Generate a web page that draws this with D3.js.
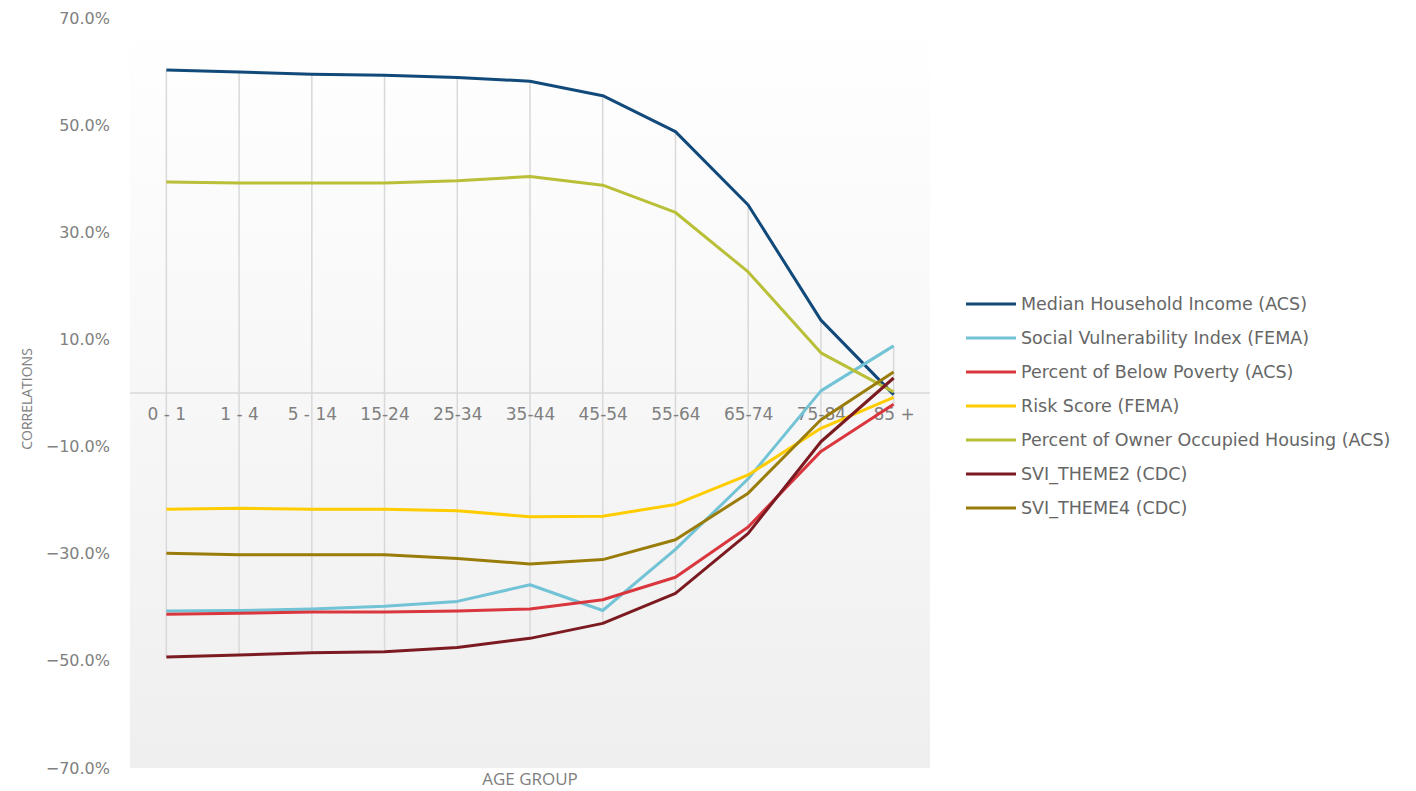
<!DOCTYPE html>
<html>
<head>
<meta charset="utf-8">
<script src="https://cdn.jsdelivr.net/npm/d3@7"></script>
<style>
  html, body { margin: 0; padding: 0; background: #fff; }
  svg { display: block; }
  text { font-family: "DejaVu Sans", sans-serif; }
</style>
</head>
<body>
<svg id="chart" width="1416" height="791"></svg>
<script>
// ---- data ----
const ageGroups = ["0 - 1", "1 - 4", "5 - 14", "15-24", "25-34", "35-44", "45-54", "55-64", "65-74", "75-84", "85 +"];
const yTicks = [70, 50, 30, 10, -10, -30, -50, -70];

const seriesNames = [
  "Median Household Income (ACS)",
  "Social Vulnerability Index (FEMA)",
  "Percent of Below Poverty (ACS)",
  "Risk Score (FEMA)",
  "Percent of Owner Occupied Housing (ACS)",
  "SVI_THEME2 (CDC)",
  "SVI_THEME4 (CDC)"
];
const seriesColors = ["#10497a", "#72c3d5", "#d9363e", "#ffcc00", "#b9bf37", "#7b1b21", "#9a7c0b"];

const medianIncome = [60.3, 59.9, 59.5, 59.3, 58.9, 58.2, 55.5, 48.8, 35.1, 13.6, -0.3];
const sviFema      = [-40.7, -40.6, -40.3, -39.8, -38.9, -35.8, -40.6, -29.2, -16.0, 0.4, 8.8];
const belowPoverty = [-41.3, -41.1, -40.9, -40.9, -40.7, -40.3, -38.6, -34.4, -25.0, -10.9, -2.1];
const riskScore    = [-21.7, -21.5, -21.7, -21.7, -22.0, -23.1, -23.0, -20.8, -15.3, -6.6, -0.8];
const ownerHousing = [39.4, 39.2, 39.2, 39.2, 39.6, 40.4, 38.8, 33.7, 22.6, 7.5, 0.2];
const sviTheme2    = [-49.3, -48.9, -48.5, -48.3, -47.5, -45.8, -43.0, -37.4, -26.2, -9.1, 2.8];
const sviTheme4    = [-29.9, -30.2, -30.2, -30.2, -30.9, -31.9, -31.1, -27.4, -18.7, -5.0, 3.9];

const seriesValues = [medianIncome, sviFema, belowPoverty, riskScore, ownerHousing, sviTheme2, sviTheme4];

// ---- layout ----
const svg = d3.select("#chart");
const plot = { left: 130, right: 930, top: 18, bottom: 768 };

const x = d3.scalePoint().domain(ageGroups).range([plot.left, plot.right]).padding(0.5);
const y = d3.scaleLinear().domain([-70, 70]).range([plot.bottom, plot.top]);

// background gradient
const defs = svg.append("defs");
const grad = defs.append("linearGradient").attr("id", "bg").attr("x1", 0).attr("y1", 0).attr("x2", 0).attr("y2", 1);
grad.append("stop").attr("offset", "0%").attr("stop-color", "#ffffff");
grad.append("stop").attr("offset", "100%").attr("stop-color", "#efefef");

svg.append("rect")
  .attr("x", plot.left).attr("y", plot.top)
  .attr("width", plot.right - plot.left).attr("height", plot.bottom - plot.top)
  .attr("fill", "url(#bg)");

// zero line
svg.append("line")
  .attr("x1", plot.left).attr("x2", plot.right)
  .attr("y1", y(0)).attr("y2", y(0))
  .attr("stroke", "#d9d9d9").attr("stroke-width", 1.5);

// high-low drop lines
ageGroups.forEach((g, i) => {
  const vals = seriesValues.map(s => s[i]);
  svg.append("line")
    .attr("x1", x(g)).attr("x2", x(g))
    .attr("y1", y(d3.max(vals))).attr("y2", y(d3.min(vals)))
    .attr("stroke", "#d9d9d9").attr("stroke-width", 1.5);
});

// y-axis labels
const yAxis = d3.axisLeft(y).tickValues(yTicks).tickSize(0).tickPadding(0)
  .tickFormat(d => d3.format(".1f")(d) + "%");
const yg = svg.append("g").attr("transform", `translate(110,0)`).call(yAxis);
yg.select(".domain").remove();
yg.selectAll("text").attr("fill", "#808080").style("font-size", "16px")
  .style("font-family", "'DejaVu Sans', sans-serif");

// x category labels (at zero line)
const xAxis = d3.axisBottom(x).tickSize(0).tickPadding(0);
const xg = svg.append("g").attr("transform", `translate(0,${y(0) + 15})`).call(xAxis);
xg.select(".domain").remove();
xg.selectAll("text").attr("fill", "#808080").style("font-size", "17px")
  .style("font-family", "'DejaVu Sans', sans-serif");

// lines
const line = d3.line().x((d, i) => x(ageGroups[i])).y(d => y(d));
seriesValues.forEach((vals, k) => {
  svg.append("path")
    .datum(vals)
    .attr("d", line)
    .attr("fill", "none")
    .attr("stroke", seriesColors[k])
    .attr("stroke-width", 3)
    .attr("stroke-linejoin", "round");
});

// axis titles
svg.append("text")
  .attr("transform", `translate(32,${y(0) + 6}) rotate(-90)`)
  .attr("text-anchor", "middle")
  .attr("fill", "#808080")
  .style("font-size", "14px")
  .style("font-family", "'Liberation Sans Narrow', 'Open Sans', sans-serif")
  .text("CORRELATIONS");

svg.append("text")
  .attr("x", (plot.left + plot.right) / 2).attr("y", 785)
  .attr("text-anchor", "middle")
  .attr("fill", "#808080")
  .style("font-size", "17px")
  .style("font-family", "'Open Sans', sans-serif")
  .text("AGE GROUP");

// legend
const legend = svg.append("g").attr("transform", "translate(966,304)");
seriesNames.forEach((name, k) => {
  const row = legend.append("g").attr("transform", `translate(0,${k * 34})`);
  row.append("line").attr("x1", 0).attr("x2", 50).attr("y1", 0).attr("y2", 0)
    .attr("stroke", seriesColors[k]).attr("stroke-width", 3);
  row.append("text").attr("x", 55).attr("y", 0).attr("dy", "0.36em")
    .attr("fill", "#666666")
    .style("font-size", "17.5px")
    .style("font-family", "'DejaVu Sans', sans-serif")
    .text(name);
});
</script>
</body>
</html>
